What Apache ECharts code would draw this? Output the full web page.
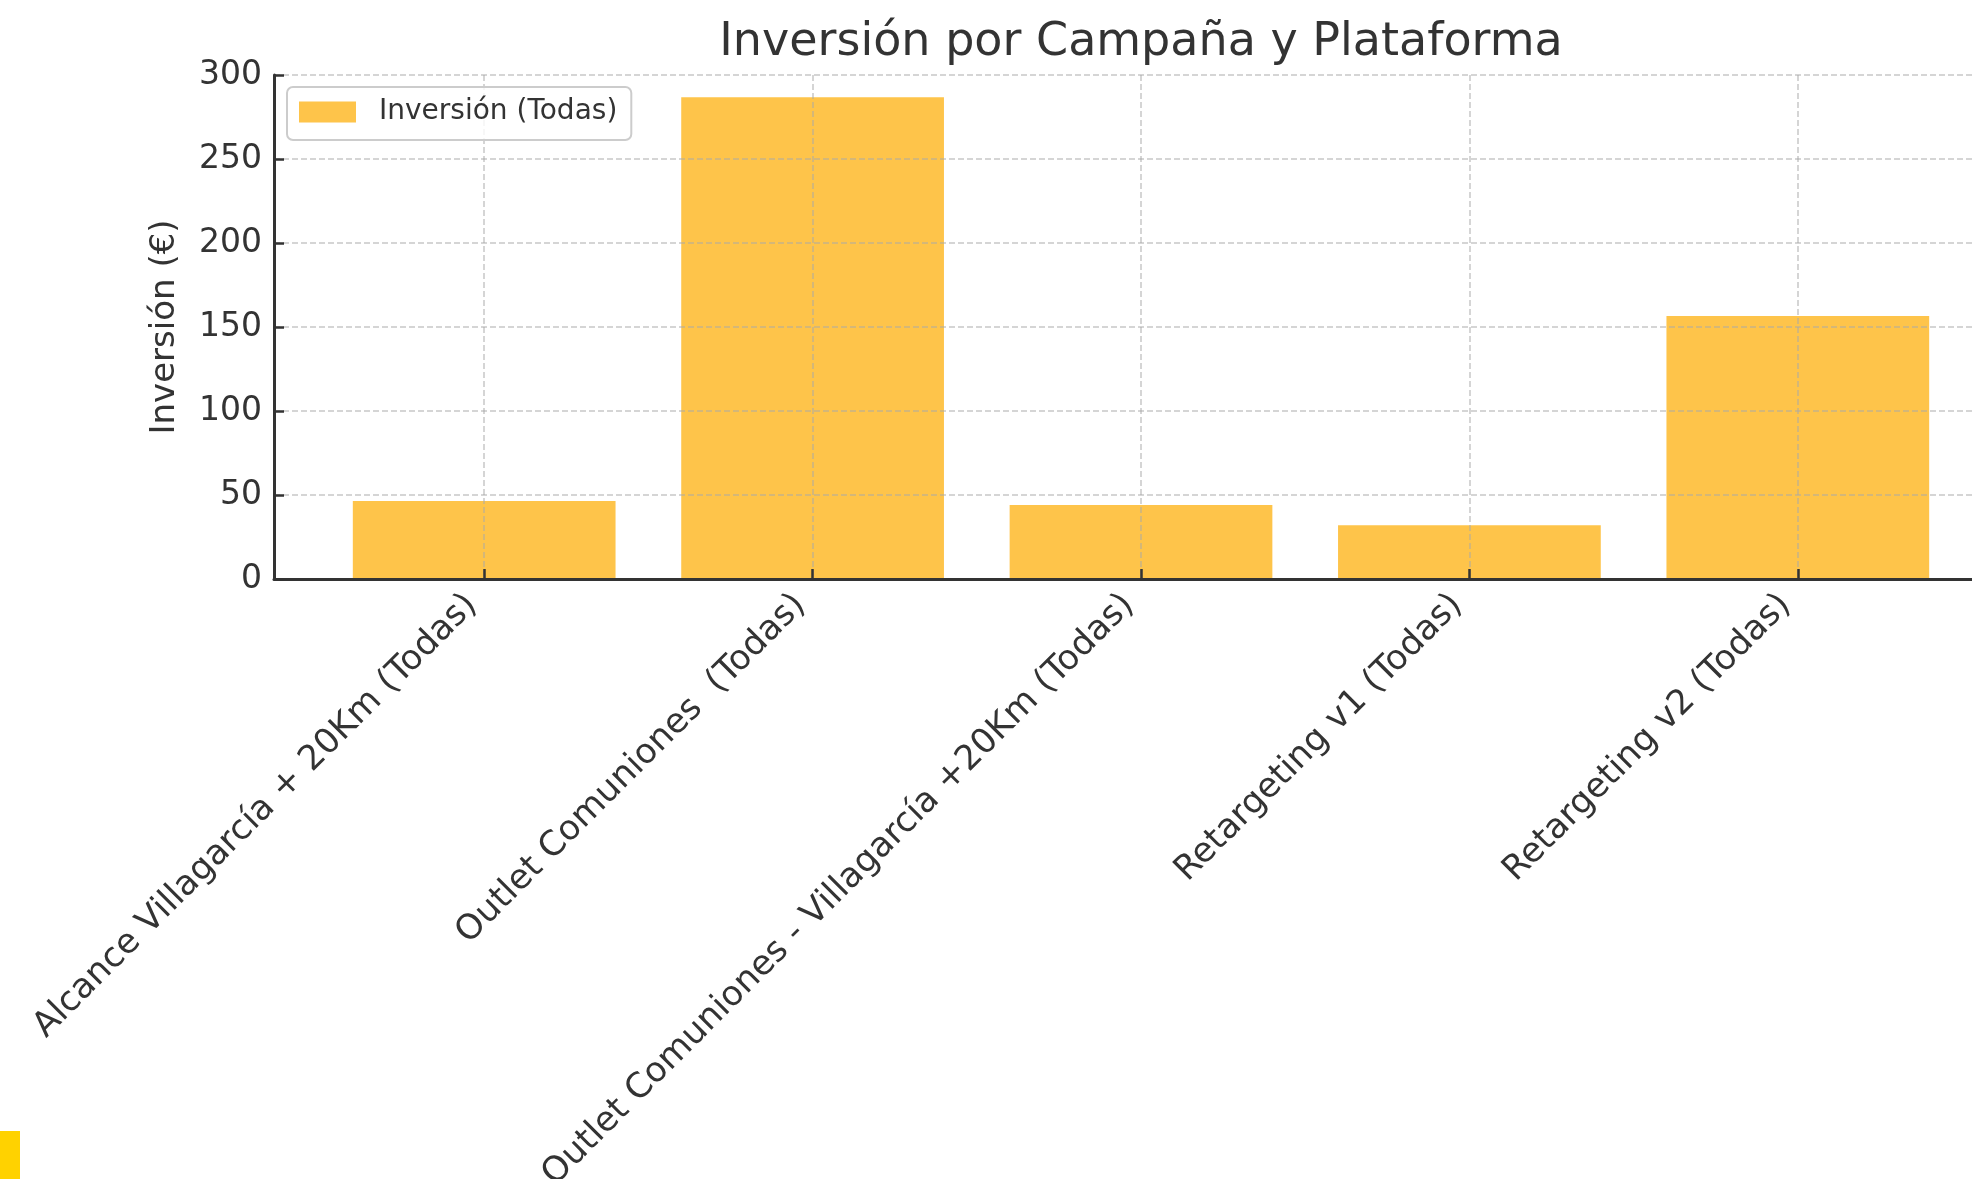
<!DOCTYPE html>
<html>
<head>
<meta charset="utf-8">
<script src="https://cdn.jsdelivr.net/npm/echarts@6/dist/echarts.min.js"></script>
<style>
html,body{margin:0;padding:0;background:#fff;}
#chart{width:1972px;height:1179px;}
</style>
</head>
<body>
<div id="chart"></div>
<script>
const categories = [
  'Alcance Villagarcía + 20Km (Todas)',
  'Outlet Comuniones  (Todas)',
  'Outlet Comuniones - Villagarcía +20Km (Todas)',
  'Retargeting v1 (Todas)',
  'Retargeting v2 (Todas)'
];
const inversion = [46.4, 286.7, 44.0, 32.0, 156.5];
const seriesName = 'Inversión (Todas)';
const yTicks = [0, 50, 100, 150, 200, 250, 300];

const FONT = 'DejaVu Sans';
const TXT = '#333333';
const positions = categories.map((c, i) => i);
const gridLine = { show: true, lineStyle: { color: 'rgba(170,170,170,0.65)', width: 1.5, type: [6, 3] } };

const chart = echarts.init(document.getElementById('chart'));
chart.setOption({
  backgroundColor: '#ffffff',
  animation: false,
  textStyle: { fontFamily: FONT },
  title: {
    text: 'Inversión por Campaña y Plataforma',
    left: 1141, top: 19, padding: 0, textAlign: 'center',
    textStyle: { fontFamily: FONT, fontSize: 46, fontWeight: 'normal', color: TXT, lineHeight: 48 }
  },
  legend: {
    data: [seriesName],
    left: 287, top: 87,
    padding: [10, 14, 13, 12],
    icon: 'rect', itemWidth: 57, itemHeight: 21,
    borderColor: '#cccccc', borderWidth: 2, borderRadius: 6,
    backgroundColor: 'rgba(255,255,255,0.8)',
    textStyle: { fontFamily: FONT, fontSize: 28, color: TXT, lineHeight: 30, padding: [0, 0, 0, 18] }
  },
  grid: { left: 274, right: -36, top: 75, bottom: 600, containLabel: false, outerBoundsMode: 'none' },
  xAxis: {
    type: 'value', min: -0.64, max: 4.64, z: 3,
    axisLine: { show: true, lineStyle: { color: '#333333', width: 3 } },
    axisTick: { show: true, inside: true, length: 10, customValues: positions, lineStyle: { color: '#333333', width: 2.5 } },
    axisLabel: {
      customValues: positions,
      formatter: v => categories[Math.round(v)],
      rotate: 45, fontSize: 34.5, lineHeight: 34.5, margin: 33,
      align: 'right', verticalAlign: 'bottom',
      color: TXT, fontFamily: FONT
    },
    splitLine: gridLine
  },
  yAxis: {
    type: 'value', min: 0, max: 300, interval: 50, z: 3,
    name: 'Inversión (€)', nameLocation: 'middle', nameGap: 92,
    nameTextStyle: { fontFamily: FONT, fontSize: 34, color: TXT },
    axisLine: { show: true, onZero: false, lineStyle: { color: '#333333', width: 3 } },
    axisTick: { show: true, inside: true, length: 10, lineStyle: { color: '#333333', width: 2.5 } },
    axisLabel: { fontSize: 33, margin: 12, color: TXT, fontFamily: FONT, customValues: yTicks, padding: [7, 0, 0, 0] },
    splitLine: gridLine
  },
  series: [{
    type: 'bar',
    name: seriesName,
    data: categories.map((c, i) => [i, inversion[i]]),
    barWidth: '80%',
    itemStyle: { color: '#FEC44A' }
  }],
  graphic: [{
    type: 'rect', left: 0, top: 1131, z: 10,
    shape: { width: 20, height: 48 },
    style: { fill: '#FFD200' }
  }]
});
</script>
</body>
</html>
